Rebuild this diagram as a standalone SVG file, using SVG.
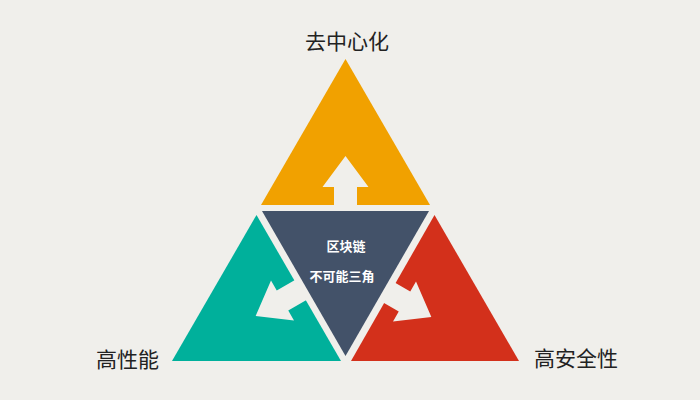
<svg xmlns="http://www.w3.org/2000/svg" width="700" height="400" viewBox="0 0 700 400">
<defs>
<style>
.lbl{font-family:"Noto Sans CJK SC","Noto Sans",sans-serif;font-size:21px;fill:#222;text-anchor:middle}
.ctr{font-family:"Noto Sans CJK SC","Noto Sans",sans-serif;font-size:13px;font-weight:bold;fill:#fff;text-anchor:middle}
.arrow{fill:#f0efeb}
</style>
<path id="arw" d="M0,-31 L23,0 L11.5,0 L11.5,30 L-11.5,30 L-11.5,0 L-23,0 Z"/>
</defs>
<rect width="700" height="400" fill="#f0efeb"/>
<g id="node-top">
<polygon points="345.5,59 261,205 430,205" fill="#f1a100"/>
<use href="#arw" class="arrow" transform="translate(345.5,187)"/>
<text class="lbl" x="347" y="49">去中心化</text>
</g>
<g id="node-left">
<polygon points="256.5,215 172,361 341,361" fill="#00b09b"/>
<use href="#arw" class="arrow" transform="translate(282.5,300.5) rotate(-120)"/>
<text class="lbl" x="127.5" y="367">高性能</text>
</g>
<g id="node-right">
<polygon points="434.5,215 351,361 519,361" fill="#d3301b"/>
<use href="#arw" class="arrow" transform="translate(404.5,301.5) rotate(120)"/>
<text class="lbl" x="576" y="366">高安全性</text>
</g>
<g id="node-center">
<polygon points="262,211 429,211 345.5,356" fill="#435269"/>
<text class="ctr" x="346" y="251">区块链</text>
<text class="ctr" x="342" y="281">不可能三角</text>
</g>
<g id="connectors"></g>
</svg>
